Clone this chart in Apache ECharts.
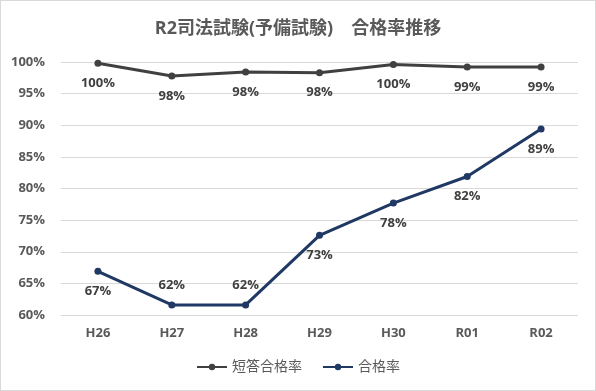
<!DOCTYPE html>
<html><head><meta charset="utf-8">
<script src="https://cdn.jsdelivr.net/npm/echarts@6/dist/echarts.min.js"></script>
<style>html,body{margin:0;padding:0;background:#fff}#c{width:596px;height:391px;box-sizing:border-box;border:1px solid #d9d9d9}</style>
</head><body><div id="c"></div>
<script>
const categories = ['H26','H27','H28','H29','H30','R01','R02'];
const tantouRate = [99.8, 97.8, 98.4, 98.3, 99.6, 99.2, 99.2];
const goukakuRate = [66.9, 61.6, 61.6, 72.6, 77.7, 81.9, 89.4];
const goukakuLabelPos = ['bottom','top','top','bottom','bottom','bottom','bottom'];
const yTicks = {min: 60, max: 100, interval: 5};

const font = '"Open Sans", "Noto Sans CJK JP", sans-serif';
const chart = echarts.init(document.getElementById('c'));
chart.setOption({
  animation: false,
  title: {text: 'R2司法試験(予備試験)　合格率推移', left: 'center', top: 14,
    textStyle: {fontFamily: font, fontSize: 18, fontWeight: 'bold', color: '#595959'}},
  grid: {left: 60, right: 17, top: 61, bottom: 75},
  legend: {bottom: 11, left: 'center', itemWidth: 30, itemHeight: 8, itemGap: 20,
    textStyle: {fontFamily: font, fontSize: 14, color: '#595959'},
    data: ['短答合格率', '合格率']},
  xAxis: {type: 'category', data: categories, boundaryGap: true,
    axisLine: {show: false}, axisTick: {show: false},
    axisLabel: {fontFamily: font, fontSize: 13, fontWeight: 'bold', color: '#595959', margin: 12}},
  yAxis: {type: 'value', min: yTicks.min, max: yTicks.max, interval: yTicks.interval,
    axisLabel: {formatter: '{value}%', fontFamily: font, fontSize: 13, fontWeight: 'bold', color: '#595959', margin: 16},
    splitLine: {lineStyle: {color: '#d9d9d9', width: 1}}},
  series: [
    {name: '短答合格率', type: 'line', data: tantouRate, symbol: 'circle', symbolSize: 7,
      lineStyle: {color: '#404040', width: 3}, itemStyle: {color: '#404040'},
      label: {show: true, position: 'bottom', distance: 10, formatter: p => Math.round(p.value) + '%',
        fontFamily: font, fontSize: 13, fontWeight: 'bold', color: '#404040'}},
    {name: '合格率', type: 'line', symbol: 'circle', symbolSize: 7,
      data: goukakuRate.map((v, i) => ({value: v, label: {position: goukakuLabelPos[i]}})),
      lineStyle: {color: '#203864', width: 3}, itemStyle: {color: '#203864'},
      label: {show: true, distance: 10, formatter: p => Math.round(p.value) + '%',
        fontFamily: font, fontSize: 13, fontWeight: 'bold', color: '#404040'}}
  ]
});
</script></body></html>
